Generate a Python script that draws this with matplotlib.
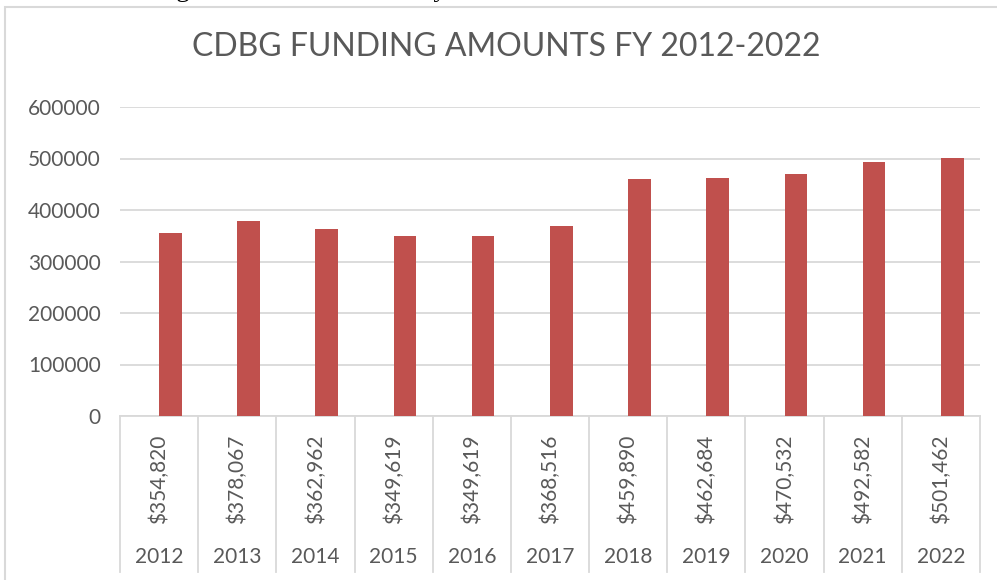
import matplotlib.pyplot as plt
from matplotlib.patches import Rectangle
from matplotlib.transforms import blended_transform_factory

# data
years = ['2012', '2013', '2014', '2015', '2016', '2017', '2018', '2019', '2020', '2021', '2022']
amounts = [354820, 378067, 362962, 349619, 349619, 368516, 459890, 462684, 470532, 492582, 501462]
yticks = [0, 100000, 200000, 300000, 400000, 500000, 600000]

GRID = '#d9d9d9'
TEXT = '#595959'
RED = '#c0504d'
plt.rcParams['font.family'] = ['Lato', 'DejaVu Sans']

fig = plt.figure(figsize=(9.97, 5.80), dpi=100)
ax = fig.add_axes([120 / 997, 164 / 580, 860 / 997, 309 / 580])

# outer chart border (cropped at right/bottom)
fig.patches.append(Rectangle((5 / 997, -0.1), 1.2, 1.1 - 7 / 580, transform=fig.transFigure,
                             fill=False, edgecolor=GRID, linewidth=1.5))

# cut-off document text above the chart
fig.text(-0.02, 1 + 3.5 / 580, 'The CDBG funding amounts to Carson City were as follows.',
         family='Liberation Serif', fontsize=19, color='black', va='baseline', ha='left')

x = list(range(len(years)))
bw = 0.29
ax.bar([i + bw / 2 for i in x], amounts, width=bw, color=RED, zorder=3)

ax.set_xlim(-0.5, len(years) - 0.5)
ax.set_ylim(0, 600000)
ax.set_yticks(yticks)
ax.set_yticklabels([str(v) for v in yticks])
ax.yaxis.grid(True, color=GRID, linewidth=1.3)
ax.set_axisbelow(True)
ax.tick_params(axis='y', length=0, pad=14, labelsize=15, labelcolor=TEXT)
ax.set_xticks([])
for s in ['top', 'right', 'left']:
    ax.spines[s].set_visible(False)
ax.spines['bottom'].set_color(GRID)
ax.spines['bottom'].set_linewidth(1.3)

# category table under the axis
tr = blended_transform_factory(ax.transData, ax.transAxes)
for i in range(len(years) + 1):
    ax.plot([i - 0.5, i - 0.5], [0, -0.505], color=GRID, linewidth=1.3,
            transform=tr, clip_on=False)
for i, (yr, amt) in enumerate(zip(years, amounts)):
    ax.text(i, -0.205, '${:,}'.format(amt), transform=tr, rotation=90,
            ha='center', va='center', fontsize=15, color=TEXT)
    ax.text(i, -0.455, yr, transform=tr, ha='center', va='center',
            fontsize=15, color=TEXT)

fig.text(0.508, 1 - 47 / 580, 'CDBG FUNDING AMOUNTS FY 2012-2022',
         ha='center', va='center', fontsize=23, color=TEXT)

fig.savefig('out.png', dpi=100)
